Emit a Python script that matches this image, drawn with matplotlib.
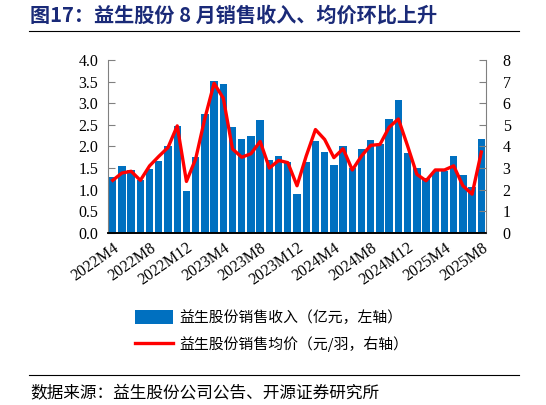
import matplotlib
matplotlib.use("Agg")
import matplotlib.pyplot as plt
import numpy as np

# monthly data 2022M4 .. 2025M8
months = []
for y in (2022, 2023, 2024, 2025):
    for m in range(1, 13):
        if (y == 2022 and m < 4) or (y == 2025 and m > 8):
            continue
        months.append(f"{y}M{m}")

revenue = [1.30, 1.54, 1.46, 1.23, 1.48, 1.67, 2.00, 2.48, 0.96, 1.75,
           2.75, 3.52, 3.45, 2.44, 2.17, 2.25, 2.60, 1.69, 1.77, 1.64,
           0.91, 1.64, 2.12, 1.87, 1.58, 2.00, 1.51, 1.93, 2.14, 2.05,
           2.64, 3.07, 1.85, 1.51, 1.28, 1.43, 1.43, 1.78, 1.33, 1.05,
           2.18]
price = [2.43, 2.77, 2.85, 2.43, 3.10, 3.54, 3.95, 4.95, 2.38, 3.42,
         5.30, 6.92, 6.23, 3.88, 3.50, 3.66, 4.23, 3.00, 3.35, 3.25,
         2.18, 3.56, 4.78, 4.32, 3.48, 3.89, 2.91, 3.56, 4.05, 4.09,
         4.89, 5.27, 4.02, 2.71, 2.41, 2.91, 2.91, 3.10, 2.18, 1.79,
         3.74]

cjk = ['Noto Sans CJK SC', 'DejaVu Sans']
serif = 'Liberation Serif'

fig = plt.figure(figsize=(5.46, 4.05), dpi=100)
ax = fig.add_axes([0.198, 0.425, 0.692, 0.427])
ax2 = ax.twinx()

x = np.arange(len(months))
bars = ax.bar(x, revenue, width=0.8, color='#0070C0', zorder=2,
              label='益生股份销售收入（亿元，左轴）')
line, = ax2.plot(x, price, color='#FF0000', lw=2.4, zorder=3,
                 label='益生股份销售均价（元/羽，右轴）')

ax.set_xlim(-0.5, len(months) - 0.5)
ax.set_ylim(0, 4.0)
ax.set_yticks(np.arange(0, 4.01, 0.5))
ax.set_yticklabels([f"{v:.1f}" for v in np.arange(0, 4.01, 0.5)],
                   fontfamily=serif, fontsize=11.5)
ax2.set_ylim(0, 8)
ax2.set_yticks(range(0, 9))
ax2.set_yticklabels([str(v) for v in range(0, 9)], fontfamily=serif, fontsize=11.5)

ax.set_xticks(x[::4])
ax.set_xticklabels(months[::4], rotation=35, ha='right', rotation_mode='anchor',
                   fontfamily=serif, fontsize=11.5)
ax.tick_params(axis='x', length=0, pad=5)
ax.tick_params(axis='y', direction='in', length=5, color='#808080', pad=7)
ax2.tick_params(axis='y', direction='in', length=5, color='#808080', pad=12)

for a in (ax, ax2):
    a.spines['top'].set_visible(False)
    a.spines['left'].set_color('#808080')
    a.spines['right'].set_color('#808080')
    a.spines['bottom'].set_color('#000000')
    a.spines['bottom'].set_linewidth(1.2)
ax2.spines['left'].set_visible(False)
ax.spines['right'].set_visible(False)

fig.legend(handles=[bars, line], loc='center', bbox_to_anchor=(0.497, 0.182),
           ncol=1, frameon=False, prop={'family': cjk, 'size': 10.7},
           handlelength=2.6, handleheight=1.0, handletextpad=0.4,
           labelspacing=0.75)

fig.text(0.055, 0.962, '图17：益生股份 8 月销售收入、均价环比上升', fontsize=14.5,
         fontweight='bold', color='#1A2A78', family=cjk, va='center')
fig.add_artist(plt.Line2D([0.053, 0.95], [0.923, 0.923], color='black', lw=0.8))
fig.add_artist(plt.Line2D([0.053, 0.95], [0.075, 0.075], color='black', lw=0.8))
fig.text(0.055, 0.031, '数据来源：益生股份公司公告、开源证券研究所', fontsize=12,
         family=cjk, va='center')

fig.savefig('out.png', dpi=100)
